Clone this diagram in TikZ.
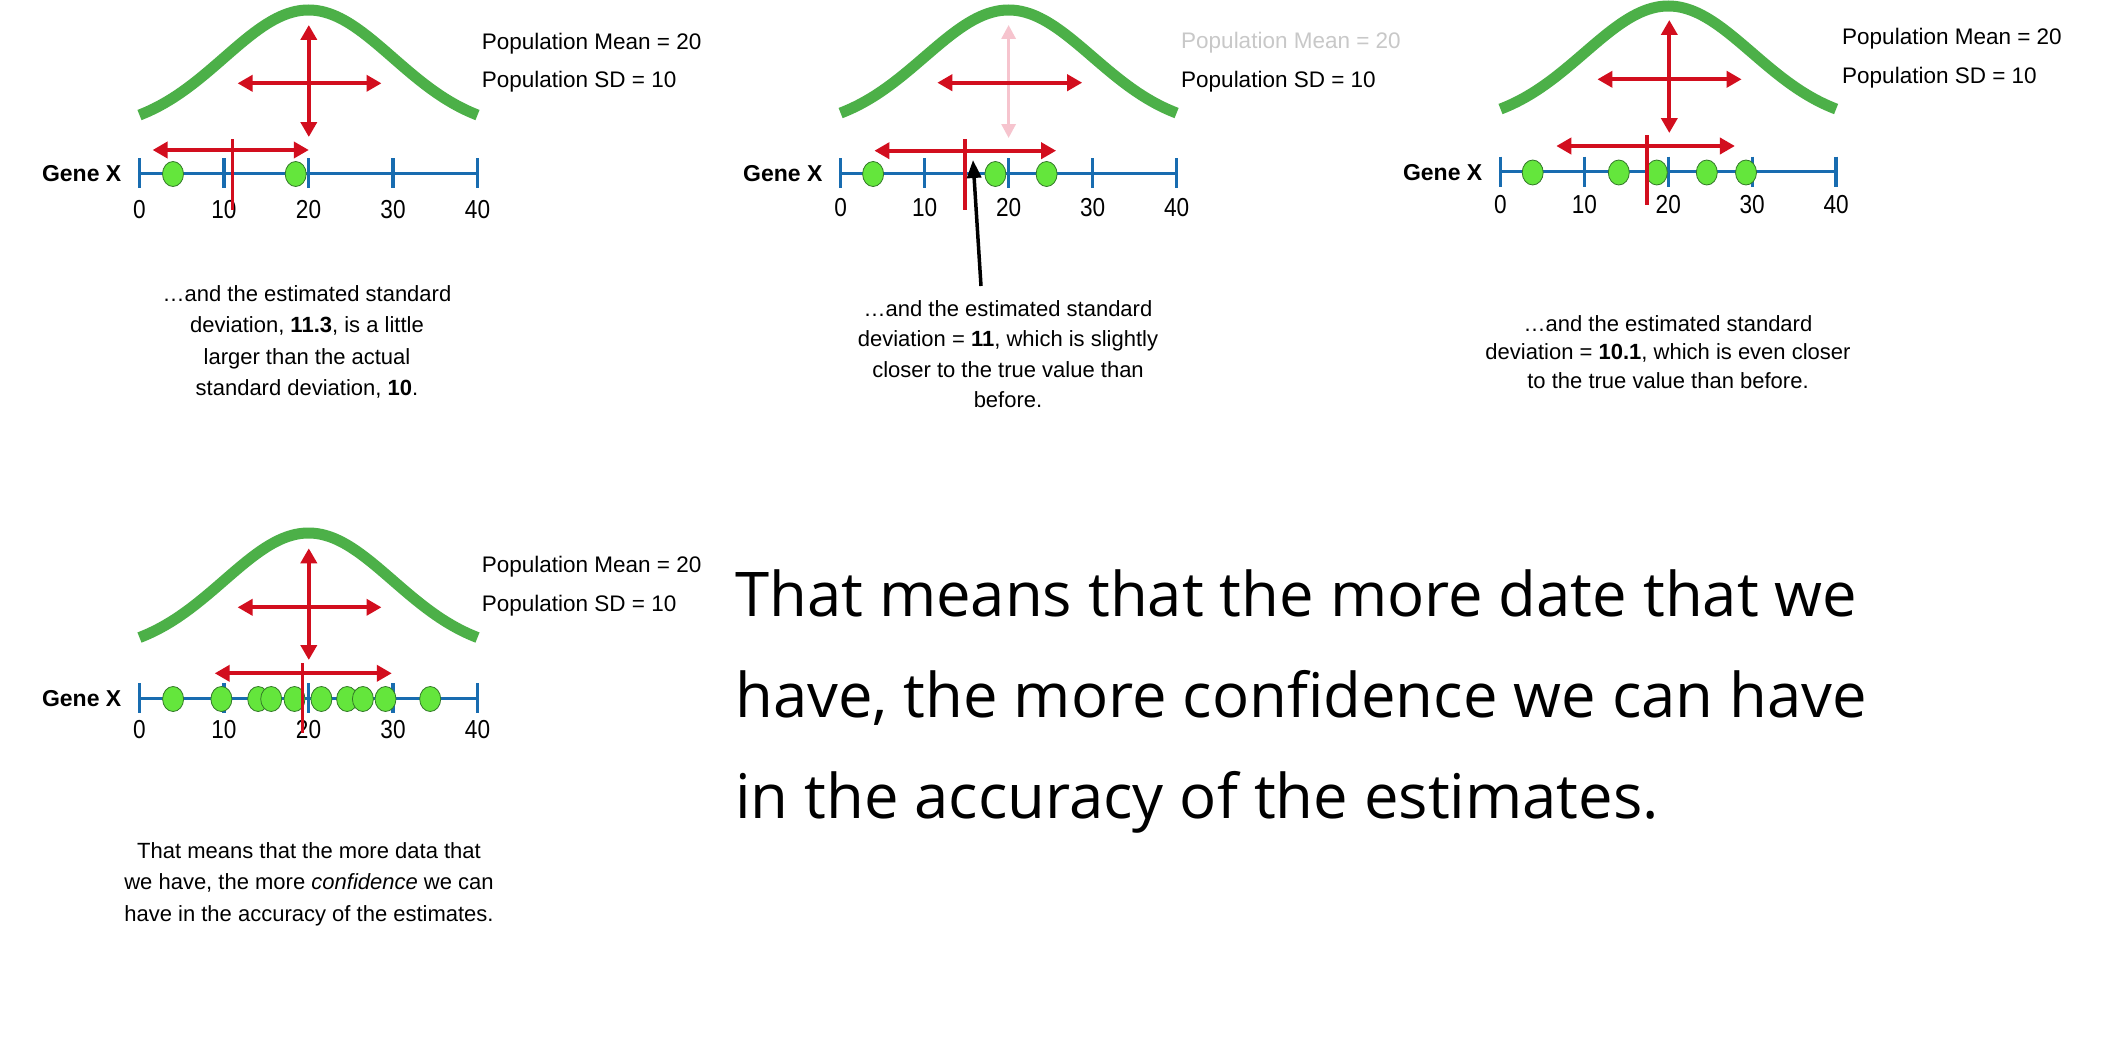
\documentclass[tikz,border=0pt]{standalone}
\usepackage{fontspec}
\setmainfont{Liberation Sans}
\newfontfamily\bigfont{Open Sans}
\newfontfamily\narrowsans[FakeStretch=0.87]{Liberation Sans}
\usetikzlibrary{arrows.meta,shapes.geometric}

\definecolor{curvegreen}{RGB}{76,176,72}
\definecolor{arrowred}{RGB}{210,14,30}
\definecolor{fadepink}{RGB}{246,196,206}
\definecolor{axisblue}{RGB}{24,108,176}
\definecolor{dotgreen}{RGB}{100,230,60}
\definecolor{dotedge}{RGB}{50,120,40}
\definecolor{fadegray}{RGB}{200,200,200}

\tikzset{
  bellcurve/.style={curvegreen, line width=11pt},
  axisline/.style={axisblue, line width=3.3pt},
  redarrow/.style={arrowred, line width=3.8pt, {Triangle[length=15pt,width=16pt]}-{Triangle[length=15pt,width=16pt]}},
  fadearrow/.style={fadepink, line width=3.2pt, {Triangle[length=14pt,width=14pt]}-{Triangle[length=14pt,width=14pt]}},
  meanline/.style={arrowred, line width=3.8pt},
  pointer/.style={black, line width=3.5pt, -{Triangle[length=18pt,width=14pt]}},
  datadot/.style={ellipse, draw=dotedge, line width=0.8pt, fill=dotgreen, minimum width=21pt, minimum height=25pt, inner sep=0pt},
  ticklab/.style={font=\narrowsans\fontsize{26}{26}\selectfont, inner sep=0pt, anchor=base},
  genelab/.style={font=\bfseries\fontsize{23}{23}\selectfont, inner sep=0pt, anchor=base east},
  poplab/.style={font=\fontsize{22.5}{22.5}\selectfont, inner sep=0pt, anchor=base west},
  captext/.style={font=\fontsize{22}{31.5}\selectfont, align=center, inner sep=0pt, anchor=north},
  bigline/.style={font=\bigfont\fontsize{61.6}{61.6}\selectfont, inner sep=0pt, anchor=base west},
}

% #1 prefix, #2 origin x, #3 unit, #4 axis y, #5 curve end y, #6 peak y, #7 label offset
\newcommand\genepanel[7]{%
  \pgfmathsetmacro\gpH{(#5-#6)/(1-exp(-2))}%
  \pgfmathsetmacro\gpB{#6+\gpH}%
  \draw[bellcurve] plot[domain=0:40,samples=81,smooth] ({#2+#3*\x},{\gpB-\gpH*exp(-0.005*(\x-20)*(\x-20))});
  \node[genelab] (#1gene) at ({#2-18},{#4+8.5}) {Gene X};
  \foreach \t in {0,10,20,30,40}{
    \node[ticklab] (#1tick\t) at ({#2+\t*#3},{#4+#7}) {\t};
  }
}
\newcommand\geneaxis[4]{%
  \draw[axisline] (#2,#4) -- ({#2+40*#3},#4);
  \foreach \t in {0,10,20,30,40}{
    \draw[axisline] ({#2+\t*#3},{#4-15}) -- ({#2+\t*#3},{#4+15});
  }
}

\begin{document}
\begin{tikzpicture}[x=1pt,y=-1pt]
\fill[white] (0,0) rectangle (2115,1057);
\useasboundingbox (0,0) rectangle (2115,1057);

% ---------------- Panel 1 ----------------
\genepanel{pA}{139.5}{8.45}{173.3}{115}{10}{45}
\coordinate (pAvt) at (308.8,25);  \coordinate (pAvb) at (308.8,137);
\coordinate (pAhl) at (237.6,83.3); \coordinate (pAhr) at (381.5,83.3);
\coordinate (pAel) at (152.6,150);  \coordinate (pAer) at (308.8,150);
\coordinate (pAmt) at (232.5,139);  \coordinate (pAmb) at (232.5,210);
\draw[redarrow] (pAvt) -- (pAvb);
\draw[redarrow] (pAhl) -- (pAhr);
\draw[redarrow] (pAel) -- (pAer);
\geneaxis{pA}{139.5}{8.45}{173.3}
\foreach \px [count=\i] in {173,295.7}{
  \node[datadot] (pAdot\i) at (\px,174) {};
}
\draw[meanline] (pAmt) -- (pAmb);
\node[poplab] (pAmean) at (481.6,49) {Population Mean = 20};
\node[poplab] (pAsd) at (481.6,87.3) {Population SD = 10};
\node[captext] (capA) at (307,285) {…and the estimated standard\\deviation, \textbf{11.3}, is a little\\larger than the actual\\standard deviation, \textbf{10}.};

% ---------------- Panel 2 ----------------
\genepanel{pB}{840.6}{8.40}{173.3}{113}{10}{43.5}
\coordinate (pBvt) at (1008.6,25);  \coordinate (pBvb) at (1008.6,138);
\coordinate (pBhl) at (937.3,82.7); \coordinate (pBhr) at (1082.2,82.7);
\coordinate (pBel) at (874.4,150.7); \coordinate (pBer) at (1056.1,150.7);
\coordinate (pBmt) at (965,139);    \coordinate (pBmb) at (965,210);
\draw[fadearrow] (pBvt) -- (pBvb);
\draw[redarrow] (pBhl) -- (pBhr);
\draw[redarrow] (pBel) -- (pBer);
\geneaxis{pB}{840.6}{8.40}{173.3}
\foreach \px [count=\i] in {873.1,995.4,1046.6}{
  \node[datadot] (pBdot\i) at (\px,174) {};
}
\draw[meanline] (pBmt) -- (pBmb);
\node[poplab, text=fadegray] (pBmean) at (1181,48.3) {Population Mean = 20};
\node[poplab] (pBsd) at (1181,87.3) {Population SD = 10};
\node[captext, font=\fontsize{22}{30.5}\selectfont] (capB) at (1008,300) {…and the estimated standard\\deviation = \textbf{11}, which is slightly\\closer to the true value than\\before.};
\coordinate (pBptail) at (981,286);
\coordinate (pBphead) at (973,160);
\draw[pointer] (pBptail) -- (pBphead);

% ---------------- Panel 3 ----------------
\genepanel{pC}{1500.5}{8.39}{171.7}{109}{6}{42}
\coordinate (pCvt) at (1669.3,20);  \coordinate (pCvb) at (1669.3,133);
\coordinate (pChl) at (1597.4,79.3); \coordinate (pChr) at (1741.6,79.3);
\coordinate (pCel) at (1556.3,146); \coordinate (pCer) at (1734.9,146);
\coordinate (pCmt) at (1647,135);   \coordinate (pCmb) at (1647,205);
\draw[redarrow] (pCvt) -- (pCvb);
\draw[redarrow] (pChl) -- (pChr);
\draw[redarrow] (pCel) -- (pCer);
\geneaxis{pC}{1500.5}{8.39}{171.7}
\foreach \px [count=\i] in {1532.7,1618.8,1656.8,1706.8,1746}{
  \node[datadot] (pCdot\i) at (\px,172.5) {};
}
\draw[meanline] (pCmt) -- (pCmb);
\node[poplab] (pCmean) at (1842,45) {Population Mean = 20};
\node[poplab] (pCsd) at (1842,83.3) {Population SD = 10};
\node[captext, font=\fontsize{22}{28.5}\selectfont] (capC) at (1668,315) {…and the estimated standard\\deviation = \textbf{10.1}, which is even closer\\to the true value than before.};

% ---------------- Panel 4 ----------------
\genepanel{pD}{139.5}{8.45}{698.3}{637.5}{533}{40}
\coordinate (pDvt) at (308.8,548.3); \coordinate (pDvb) at (308.8,660);
\coordinate (pDhl) at (237.6,607.3); \coordinate (pDhr) at (381.5,607.3);
\coordinate (pDel) at (214.7,673.3); \coordinate (pDer) at (391.8,673.3);
\coordinate (pDmt) at (302.4,663.3); \coordinate (pDmb) at (302.4,733.3);
\draw[redarrow] (pDvt) -- (pDvb);
\draw[redarrow] (pDhl) -- (pDhr);
\draw[redarrow] (pDel) -- (pDer);
\geneaxis{pD}{139.5}{8.45}{698.3}
\foreach \px [count=\i] in {173.1,221.4,258.2,271.2,294.5,321.4,347.1,362.9,385.5,430.2}{
  \node[datadot] (pDdot\i) at (\px,699) {};
}
\draw[meanline] (pDmt) -- (pDmb);
\node[poplab] (pDmean) at (481.6,572.7) {Population Mean = 20};
\node[poplab] (pDsd) at (481.6,611) {Population SD = 10};
\node[captext, font=\fontsize{22}{31.7}\selectfont] (capD) at (309,842) {That means that the more data that\\we have, the more \textit{confidence} we can\\have in the accuracy of the estimates.};

% ---------------- Big text ----------------
\node[bigline] (big1) at (735,616) {That means that the more date that we};
\node[bigline] (big2) at (735,717) {have, the more confidence we can have};
\node[bigline] (big3) at (735,818) {in the accuracy of the estimates.};
\end{tikzpicture}
\end{document}
